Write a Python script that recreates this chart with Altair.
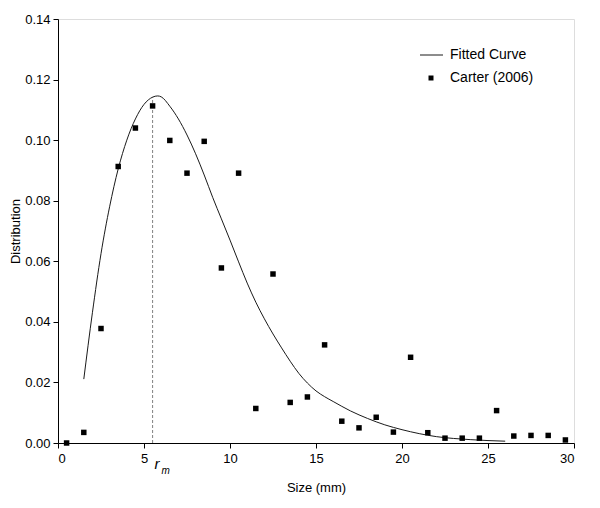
import altair as alt
import pandas as pd

# Observed data (Carter 2006)
obs_x = [0.5, 1.5, 2.5, 3.5, 4.5, 5.5, 6.5, 7.5, 8.5, 9.5, 10.5, 11.5, 12.5, 13.5, 14.5,
         15.5, 16.5, 17.5, 18.5, 19.5, 20.5, 21.5, 22.5, 23.5, 24.5, 25.5, 26.5, 27.5, 28.5, 29.5]
obs_y = [0.0000, 0.0035, 0.0378, 0.0913, 0.1040, 0.1113, 0.0999, 0.0891, 0.0996, 0.0578,
         0.0891, 0.0114, 0.0558, 0.0134, 0.0152, 0.0324, 0.0072, 0.0050, 0.0085, 0.0036,
         0.0283, 0.0034, 0.0016, 0.0016, 0.0016, 0.0107, 0.0023, 0.0025, 0.0025, 0.0010]

# Fitted curve
fit_x = [1.5, 2.0, 2.5, 3.0, 3.5, 4.0, 4.5, 5.0, 5.5, 5.8, 6.0, 6.5, 7.0, 7.5, 8.0, 8.5,
         9.0, 9.5, 10.0, 10.5, 11.0, 11.5, 12.0, 12.5, 13.0, 13.5, 14.0, 14.5, 15.0, 15.5,
         16.0, 17.0, 18.0, 19.0, 20.0, 21.0, 22.0, 23.0, 24.0, 25.0, 26.0]
fit_y = [0.0211, 0.0430, 0.0625, 0.0780, 0.0905, 0.1000, 0.1070, 0.1118, 0.1142, 0.1146,
         0.1143, 0.1112, 0.1070, 0.1017, 0.0955, 0.0885, 0.0810, 0.0740, 0.0670, 0.0598,
         0.0528, 0.0465, 0.0410, 0.0360, 0.0314, 0.0270, 0.0230, 0.0198, 0.0172, 0.0153,
         0.0137, 0.0106, 0.0081, 0.0060, 0.0044, 0.0031, 0.0021, 0.0015, 0.0011, 0.0008,
         0.0006]

rm_x = [5.5]
rm_top = [0.1142]

x_ticks = [0, 5, 10, 15, 20, 25, 30]
y_ticks = [0.00, 0.02, 0.04, 0.06, 0.08, 0.10, 0.12, 0.14]

FONT = "Liberation Sans"
W, H = 516, 424

obs = pd.DataFrame({"x": obs_x, "y": obs_y})
fit = pd.DataFrame({"x": fit_x, "y": fit_y})
rm = pd.DataFrame({"x": rm_x, "y": [0.0], "y2": rm_top})

xscale = alt.Scale(domain=[0, 30], nice=False, zero=False)
yscale = alt.Scale(domain=[0, 0.14], nice=False)

xaxis = alt.Axis(values=x_ticks, title="Size (mm)", grid=False, format="d",
                 domainColor="black", tickColor="black", tickSize=5,
                 labelColor="black", labelFont=FONT, labelFontSize=13,
                 labelPadding=4, titleFont=FONT, titleFontSize=13,
                 titleFontWeight="normal", titleColor="black", titlePadding=16)
yaxis = alt.Axis(values=y_ticks, title="Distribution", grid=False, format=".2f",
                 domainColor="black", tickColor="black", tickSize=5,
                 labelColor="black", labelFont=FONT, labelFontSize=13,
                 labelPadding=3, titleFont=FONT, titleFontSize=13,
                 titleFontWeight="normal", titleColor="black",
                 titleX=-36, titleY=H / 2, titleBaseline="bottom", titleAngle=270)

base_x = alt.X("x:Q", scale=xscale, axis=xaxis)
base_y = alt.Y("y:Q", scale=yscale, axis=yaxis)

dashed = alt.Chart(rm).mark_rule(color="#808080", strokeDash=[3, 2], strokeWidth=1).encode(
    x=alt.X("x:Q", scale=xscale), y=alt.Y("y:Q", scale=yscale), y2="y2:Q")

curve = alt.Chart(fit).mark_line(color="#1a1a1a", strokeWidth=1, interpolate="monotone").encode(
    x=base_x, y=base_y)

pts = alt.Chart(obs).mark_square(size=30, color="black", filled=True, opacity=1).encode(
    x=alt.X("x:Q", scale=xscale), y=alt.Y("y:Q", scale=yscale))

r_text = alt.Chart(rm).mark_text(text="r", font=FONT, fontSize=15, fontStyle="italic",
                                 align="left", baseline="alphabetic", dx=2, color="black").encode(
    x=alt.X("x:Q", scale=xscale), y=alt.value(450))
m_text = alt.Chart(rm).mark_text(text="m", font=FONT, fontSize=10, fontStyle="italic",
                                 align="left", baseline="alphabetic", dx=9, color="black").encode(
    x=alt.X("x:Q", scale=xscale), y=alt.value(455))

# manual legend
leg_line = alt.Chart(rm).mark_rule(color="#1a1a1a", strokeWidth=1).encode(
    x=alt.value(362), x2=alt.value(385), y=alt.value(36))
leg_sq = alt.Chart(rm).mark_square(size=25, color="black", filled=True, opacity=1).encode(
    x=alt.value(373), y=alt.value(59))
leg_t1 = alt.Chart(rm).mark_text(text="Fitted Curve", font=FONT, fontSize=14, align="left",
                                 baseline="middle", color="black").encode(
    x=alt.value(392), y=alt.value(36))
leg_t2 = alt.Chart(rm).mark_text(text="Carter (2006)", font=FONT, fontSize=14, align="left",
                                 baseline="middle", color="black").encode(
    x=alt.value(392), y=alt.value(59))

chart = alt.layer(dashed, curve, pts, r_text, m_text, leg_line, leg_sq, leg_t1, leg_t2).properties(
    width=W, height=H,
    autosize=alt.AutoSizeParams(type="none"),
    padding={"left": 50, "top": 11, "right": 10, "bottom": 60},
).configure_view(stroke="#bdbdbd", strokeWidth=1).configure(background="white")

chart.save("out.html", embed_options={"renderer": "svg", "actions": False})
